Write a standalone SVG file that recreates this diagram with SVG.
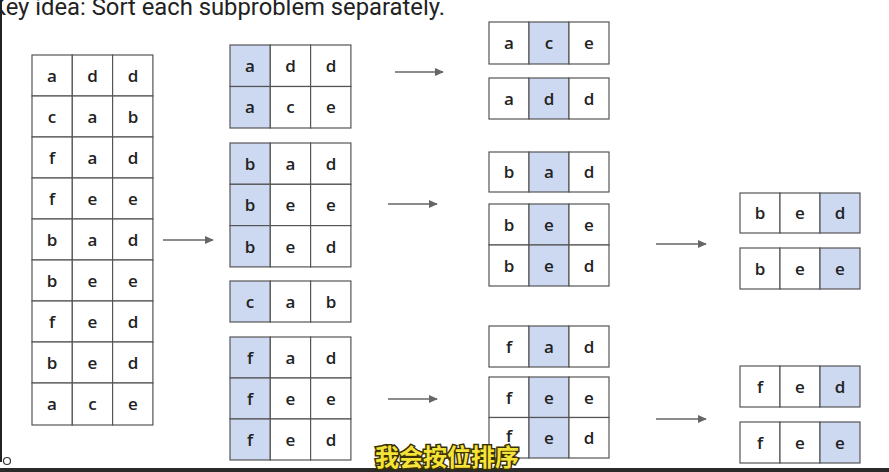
<svg xmlns="http://www.w3.org/2000/svg" width="889" height="472" viewBox="0 0 889 472">
<style>
.c{fill:#ffffff;stroke:#555555;stroke-width:1.2}
.h{fill:#cdd8f1;stroke:#555555;stroke-width:1.2}
.t{font-family:"Open Sans","Noto Sans",sans-serif;font-size:17px;font-weight:600;fill:#222222;text-anchor:middle}
.ar{stroke:#666666;stroke-width:1.6;fill:none;marker-end:url(#ah)}
</style>
<defs>
<marker id="ah" viewBox="0 0 10 10" refX="9" refY="5" markerWidth="9" markerHeight="9" orient="auto" markerUnits="userSpaceOnUse">
<path d="M0,0.5 L10,5 L0,9.5 z" fill="#666666"/>
</marker>
</defs>
<rect x="0" y="0" width="889" height="472" fill="#ffffff"/>
<rect x="0" y="0" width="2" height="462" fill="#222222"/>
<text x="-9" y="15" font-family="Roboto,'Liberation Sans',sans-serif" font-size="23.5" fill="#222222" textLength="454" lengthAdjust="spacingAndGlyphs">Key idea: Sort each subproblem separately.</text>

<g id="input">
<rect class="c" x="32" y="55" width="40.3" height="41"/><rect class="c" x="72.3" y="55" width="40.3" height="41"/><rect class="c" x="112.6" y="55" width="40.3" height="41"/>
<text class="t" x="52" y="81.5">a</text><text class="t" x="92.5" y="81.5">d</text><text class="t" x="133" y="81.5">d</text>
<rect class="c" x="32" y="96" width="40.3" height="41"/><rect class="c" x="72.3" y="96" width="40.3" height="41"/><rect class="c" x="112.6" y="96" width="40.3" height="41"/>
<text class="t" x="52" y="122.5">c</text><text class="t" x="92.5" y="122.5">a</text><text class="t" x="133" y="122.5">b</text>
<rect class="c" x="32" y="137" width="40.3" height="41"/><rect class="c" x="72.3" y="137" width="40.3" height="41"/><rect class="c" x="112.6" y="137" width="40.3" height="41"/>
<text class="t" x="52" y="163.5">f</text><text class="t" x="92.5" y="163.5">a</text><text class="t" x="133" y="163.5">d</text>
<rect class="c" x="32" y="178" width="40.3" height="41"/><rect class="c" x="72.3" y="178" width="40.3" height="41"/><rect class="c" x="112.6" y="178" width="40.3" height="41"/>
<text class="t" x="52" y="204.5">f</text><text class="t" x="92.5" y="204.5">e</text><text class="t" x="133" y="204.5">e</text>
<rect class="c" x="32" y="219" width="40.3" height="41"/><rect class="c" x="72.3" y="219" width="40.3" height="41"/><rect class="c" x="112.6" y="219" width="40.3" height="41"/>
<text class="t" x="52" y="245.5">b</text><text class="t" x="92.5" y="245.5">a</text><text class="t" x="133" y="245.5">d</text>
<rect class="c" x="32" y="260" width="40.3" height="41"/><rect class="c" x="72.3" y="260" width="40.3" height="41"/><rect class="c" x="112.6" y="260" width="40.3" height="41"/>
<text class="t" x="52" y="286.5">b</text><text class="t" x="92.5" y="286.5">e</text><text class="t" x="133" y="286.5">e</text>
<rect class="c" x="32" y="301" width="40.3" height="41"/><rect class="c" x="72.3" y="301" width="40.3" height="41"/><rect class="c" x="112.6" y="301" width="40.3" height="41"/>
<text class="t" x="52" y="327.5">f</text><text class="t" x="92.5" y="327.5">e</text><text class="t" x="133" y="327.5">d</text>
<rect class="c" x="32" y="342" width="40.3" height="41"/><rect class="c" x="72.3" y="342" width="40.3" height="41"/><rect class="c" x="112.6" y="342" width="40.3" height="41"/>
<text class="t" x="52" y="368.5">b</text><text class="t" x="92.5" y="368.5">e</text><text class="t" x="133" y="368.5">d</text>
<rect class="c" x="32" y="383" width="40.3" height="42"/><rect class="c" x="72.3" y="383" width="40.3" height="42"/><rect class="c" x="112.6" y="383" width="40.3" height="42"/>
<text class="t" x="52" y="410">a</text><text class="t" x="92.5" y="410">c</text><text class="t" x="133" y="410">e</text>
</g>

<g id="group-a">
<rect class="h" x="230" y="45" width="40.3" height="41.5"/><rect class="c" x="270.3" y="45" width="40.3" height="41.5"/><rect class="c" x="310.6" y="45" width="40.3" height="41.5"/>
<text class="t" x="250" y="71.5">a</text><text class="t" x="290.5" y="71.5">d</text><text class="t" x="331" y="71.5">d</text>
<rect class="h" x="230" y="86.5" width="40.3" height="41.5"/><rect class="c" x="270.3" y="86.5" width="40.3" height="41.5"/><rect class="c" x="310.6" y="86.5" width="40.3" height="41.5"/>
<text class="t" x="250" y="113">a</text><text class="t" x="290.5" y="113">c</text><text class="t" x="331" y="113">e</text>
</g>
<g id="group-b">
<rect class="h" x="230" y="143" width="40.3" height="41.3"/><rect class="c" x="270.3" y="143" width="40.3" height="41.3"/><rect class="c" x="310.6" y="143" width="40.3" height="41.3"/>
<text class="t" x="250" y="169.5">b</text><text class="t" x="290.5" y="169.5">a</text><text class="t" x="331" y="169.5">d</text>
<rect class="h" x="230" y="184.3" width="40.3" height="41.3"/><rect class="c" x="270.3" y="184.3" width="40.3" height="41.3"/><rect class="c" x="310.6" y="184.3" width="40.3" height="41.3"/>
<text class="t" x="250" y="211">b</text><text class="t" x="290.5" y="211">e</text><text class="t" x="331" y="211">e</text>
<rect class="h" x="230" y="225.6" width="40.3" height="41.3"/><rect class="c" x="270.3" y="225.6" width="40.3" height="41.3"/><rect class="c" x="310.6" y="225.6" width="40.3" height="41.3"/>
<text class="t" x="250" y="252.5">b</text><text class="t" x="290.5" y="252.5">e</text><text class="t" x="331" y="252.5">d</text>
</g>
<g id="group-c">
<rect class="h" x="230" y="281" width="40.3" height="41"/><rect class="c" x="270.3" y="281" width="40.3" height="41"/><rect class="c" x="310.6" y="281" width="40.3" height="41"/>
<text class="t" x="250" y="307.5">c</text><text class="t" x="290.5" y="307.5">a</text><text class="t" x="331" y="307.5">b</text>
</g>
<g id="group-f">
<rect class="h" x="230" y="337" width="40.3" height="41"/><rect class="c" x="270.3" y="337" width="40.3" height="41"/><rect class="c" x="310.6" y="337" width="40.3" height="41"/>
<text class="t" x="250" y="363.5">f</text><text class="t" x="290.5" y="363.5">a</text><text class="t" x="331" y="363.5">d</text>
<rect class="h" x="230" y="378" width="40.3" height="41"/><rect class="c" x="270.3" y="378" width="40.3" height="41"/><rect class="c" x="310.6" y="378" width="40.3" height="41"/>
<text class="t" x="250" y="404.5">f</text><text class="t" x="290.5" y="404.5">e</text><text class="t" x="331" y="404.5">e</text>
<rect class="h" x="230" y="419" width="40.3" height="41"/><rect class="c" x="270.3" y="419" width="40.3" height="41"/><rect class="c" x="310.6" y="419" width="40.3" height="41"/>
<text class="t" x="250" y="445.5">f</text><text class="t" x="290.5" y="445.5">e</text><text class="t" x="331" y="445.5">d</text>
</g>

<g id="group-ac">
<rect class="c" x="489" y="22" width="40" height="42"/><rect class="h" x="529" y="22" width="40" height="42"/><rect class="c" x="569" y="22" width="40" height="42"/>
<text class="t" x="509" y="49">a</text><text class="t" x="549" y="49">c</text><text class="t" x="589" y="49">e</text>
</g>
<g id="group-ad">
<rect class="c" x="489" y="78" width="40" height="41"/><rect class="h" x="529" y="78" width="40" height="41"/><rect class="c" x="569" y="78" width="40" height="41"/>
<text class="t" x="509" y="104.5">a</text><text class="t" x="549" y="104.5">d</text><text class="t" x="589" y="104.5">d</text>
</g>
<g id="group-ba">
<rect class="c" x="489" y="152" width="40" height="40"/><rect class="h" x="529" y="152" width="40" height="40"/><rect class="c" x="569" y="152" width="40" height="40"/>
<text class="t" x="509" y="178">b</text><text class="t" x="549" y="178">a</text><text class="t" x="589" y="178">d</text>
</g>
<g id="group-be">
<rect class="c" x="489" y="204" width="40" height="41"/><rect class="h" x="529" y="204" width="40" height="41"/><rect class="c" x="569" y="204" width="40" height="41"/>
<text class="t" x="509" y="230.5">b</text><text class="t" x="549" y="230.5">e</text><text class="t" x="589" y="230.5">e</text>
<rect class="c" x="489" y="245" width="40" height="41"/><rect class="h" x="529" y="245" width="40" height="41"/><rect class="c" x="569" y="245" width="40" height="41"/>
<text class="t" x="509" y="271.5">b</text><text class="t" x="549" y="271.5">e</text><text class="t" x="589" y="271.5">d</text>
</g>
<g id="group-fa">
<rect class="c" x="489" y="326" width="40" height="41"/><rect class="h" x="529" y="326" width="40" height="41"/><rect class="c" x="569" y="326" width="40" height="41"/>
<text class="t" x="509" y="352.5">f</text><text class="t" x="549" y="352.5">a</text><text class="t" x="589" y="352.5">d</text>
</g>
<g id="group-fe">
<rect class="c" x="489" y="377" width="40" height="40.5"/><rect class="h" x="529" y="377" width="40" height="40.5"/><rect class="c" x="569" y="377" width="40" height="40.5"/>
<text class="t" x="509" y="403.5">f</text><text class="t" x="549" y="403.5">e</text><text class="t" x="589" y="403.5">e</text>
<rect class="c" x="489" y="417.5" width="40" height="40.5"/><rect class="h" x="529" y="417.5" width="40" height="40.5"/><rect class="c" x="569" y="417.5" width="40" height="40.5"/>
<text class="t" x="509" y="442">f</text><text class="t" x="549" y="444">e</text><text class="t" x="589" y="444">d</text>
</g>

<g id="group-bed">
<rect class="c" x="740" y="193" width="40" height="40"/><rect class="c" x="780" y="193" width="40" height="40"/><rect class="h" x="820" y="193" width="40" height="40"/>
<text class="t" x="760" y="219">b</text><text class="t" x="800" y="219">e</text><text class="t" x="840" y="219">d</text>
</g>
<g id="group-bee">
<rect class="c" x="740" y="248" width="40" height="41"/><rect class="c" x="780" y="248" width="40" height="41"/><rect class="h" x="820" y="248" width="40" height="41"/>
<text class="t" x="760" y="274.5">b</text><text class="t" x="800" y="274.5">e</text><text class="t" x="840" y="274.5">e</text>
</g>
<g id="group-fed">
<rect class="c" x="740" y="366" width="40" height="41"/><rect class="c" x="780" y="366" width="40" height="41"/><rect class="h" x="820" y="366" width="40" height="41"/>
<text class="t" x="760" y="392.5">f</text><text class="t" x="800" y="392.5">e</text><text class="t" x="840" y="392.5">d</text>
</g>
<g id="group-fee">
<rect class="c" x="740" y="422" width="40" height="41"/><rect class="c" x="780" y="422" width="40" height="41"/><rect class="h" x="820" y="422" width="40" height="41"/>
<text class="t" x="760" y="448.5">f</text><text class="t" x="800" y="448.5">e</text><text class="t" x="840" y="448.5">e</text>
</g>

<g id="connectors">
<line class="ar" x1="163" y1="240" x2="213" y2="240"/>
<line class="ar" x1="395" y1="72" x2="443" y2="72"/>
<line class="ar" x1="388" y1="204" x2="437" y2="204"/>
<line class="ar" x1="388" y1="399" x2="437" y2="399"/>
<line class="ar" x1="656" y1="244" x2="706" y2="244"/>
<line class="ar" x1="656" y1="419" x2="706" y2="419"/>
</g>

<rect x="0" y="468" width="889" height="4" fill="#2a2a2a"/>
<circle cx="7" cy="461" r="3.5" fill="none" stroke="#333333" stroke-width="1.2"/>
<text x="447" y="466" font-family="'Noto Sans CJK SC',sans-serif" font-size="24" font-weight="bold" fill="#f5e33a" stroke="#3a3000" stroke-width="3" paint-order="stroke" text-anchor="middle">我会按位排序</text>
</svg>
